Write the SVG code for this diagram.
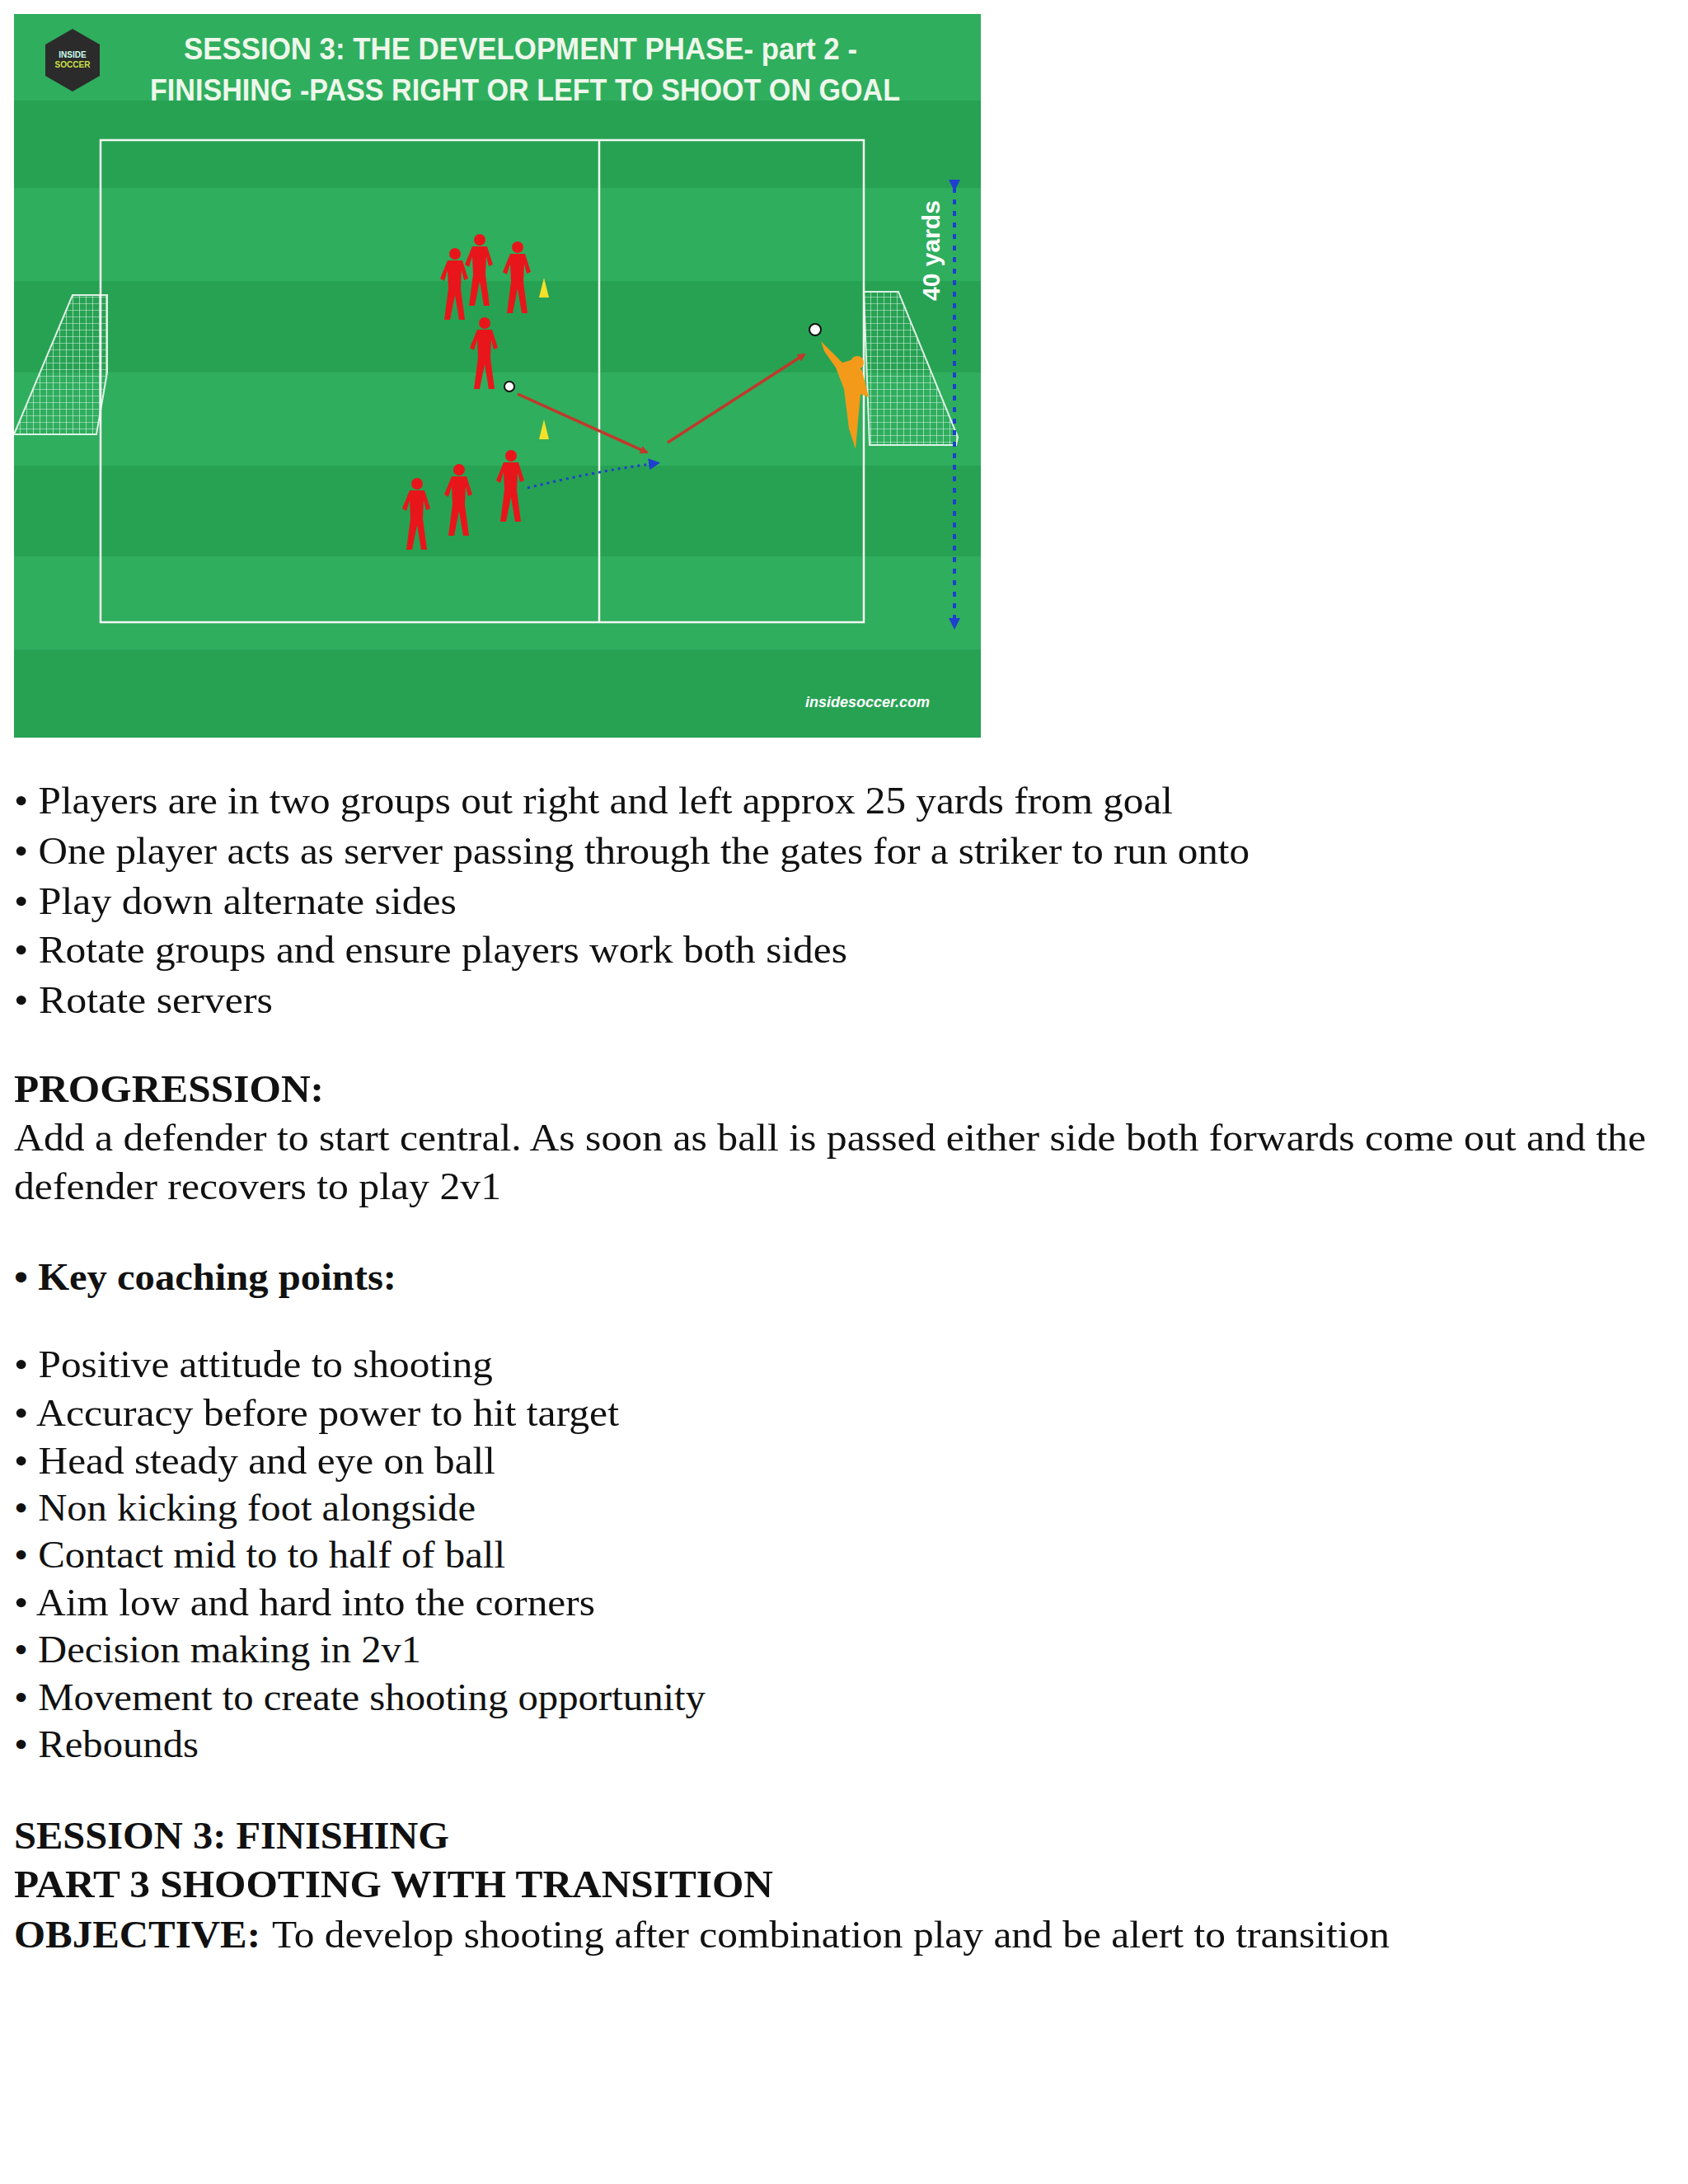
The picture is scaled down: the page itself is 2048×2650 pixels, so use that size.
<svg xmlns="http://www.w3.org/2000/svg" width="2048" height="2650" viewBox="0 0 2048 2650">
<defs>
<style>
.t{font-family:"Liberation Serif","Times New Roman",serif;font-size:47px;fill:#111}
.b{font-weight:bold}
.ti{font-family:"Liberation Sans",Arial,sans-serif;font-weight:bold;font-size:36px;fill:#eef7ea}
.line{fill:none;stroke:#f4f8f2;stroke-width:2.5}
.pl{fill:#e8161a}
</style>
<pattern id="net" width="8" height="8" patternUnits="userSpaceOnUse"><path d="M0 0H8M0 0V8" stroke="#ffffff" stroke-width="1.2" fill="none"/></pattern>
<marker id="ar" markerWidth="10" markerHeight="10" refX="8" refY="5" orient="auto" markerUnits="userSpaceOnUse"><path d="M0 0L10 5L0 10z" fill="#c0392b"/></marker>
<marker id="ab" markerWidth="14" markerHeight="14" refX="10" refY="7" orient="auto" markerUnits="userSpaceOnUse"><path d="M0 0L14 7L0 14z" fill="#1f3fd0"/></marker>
<g id="player"><circle cx="0" cy="-38" r="7"/><path d="M-9 -30 L9 -30 L16 -8 L11 -6 L8 -18 L7 4 L12 42 L5 42 L0 12 L-6 42 L-13 42 L-8 4 L-9 -18 L-13 -5 L-18 -8 Z"/></g>
</defs>
<rect x="0" y="0" width="2048" height="2650" fill="#fff"/>
<g id="pitch">
<rect x="17" y="17" width="1173" height="878" fill="#2fae5e"/>
<rect x="17" y="122" width="1173" height="106" fill="#27a253"/>
<rect x="17" y="341" width="1173" height="111" fill="#27a253"/>
<rect x="17" y="565" width="1173" height="110" fill="#27a253"/>
<rect x="17" y="788" width="1173" height="107" fill="#27a253"/>
<rect x="122" y="170" width="926" height="585" class="line"/>
<line x1="727" y1="170" x2="727" y2="755" class="line"/>
</g>
<g id="logo"><polygon points="88,35 121,54 121,92 88,111 55,92 55,54" fill="#2b2b2b"/><text x="88" y="70" text-anchor="middle" font-family="Liberation Sans,Arial,sans-serif" font-size="10" font-weight="bold" fill="#cfe">INSIDE</text><text x="88" y="82" text-anchor="middle" font-family="Liberation Sans,Arial,sans-serif" font-size="10" font-weight="bold" fill="#cde04a">SOCCER</text></g>
<g id="title"><text class="ti" x="223" y="72" textLength="817" lengthAdjust="spacingAndGlyphs">SESSION  3:  THE DEVELOPMENT PHASE- part 2 -</text><text class="ti" x="182" y="122" textLength="910" lengthAdjust="spacingAndGlyphs">FINISHING -PASS RIGHT OR LEFT TO SHOOT ON  GOAL</text></g>
<g id="goal-left"><polygon points="88,358 130,358 130,452 117,527 17,527" fill="url(#net)" stroke="#fff" stroke-width="2" opacity="0.85"/></g>
<g id="goal-right"><polygon points="1048,354 1090,354 1162,530 1160,540 1055,540" fill="url(#net)" stroke="#fff" stroke-width="2" opacity="0.85"/></g>
<g id="measure"><line x1="1158" y1="228" x2="1158" y2="760" stroke="#1f3fd0" stroke-width="4" stroke-dasharray="6 8" marker-start="url(#ab)" marker-end="url(#ab)"/><text x="1140" y="304" transform="rotate(-90 1140 304)" text-anchor="middle" font-family="Liberation Sans,Arial,sans-serif" font-weight="bold" font-size="30" fill="#fff">40 yards</text></g>
<g id="cones"><polygon points="660,337 654,361 666,361" fill="#f5e02a"/><polygon points="660,509 654,533 666,533" fill="#f5e02a"/></g>
<g id="players-top" class="pl"><use href="#player" transform="translate(552,346)"/><use href="#player" transform="translate(582,329)"/><use href="#player" transform="translate(628,338)"/></g>
<g id="server" class="pl"><use href="#player" transform="translate(588,430)"/></g>
<g id="players-bottom" class="pl"><use href="#player" transform="translate(506,625)"/><use href="#player" transform="translate(557,608)"/><use href="#player" transform="translate(620,591)"/></g>
<g id="keeper"><path d="M996 414 L1010 428 L1022 440 L1036 436 L1046 450 L1054 482 L1044 478 L1042 500 L1038 545 L1030 520 L1024 472 L1014 446 L1000 426 Z" fill="#f39a1a"/><circle cx="1040" cy="440" r="8" fill="#f39a1a"/></g>
<g id="balls"><circle cx="618" cy="469" r="6" fill="#fff" stroke="#111" stroke-width="2"/><circle cx="989" cy="400" r="7" fill="#fff" stroke="#111" stroke-width="2"/></g>
<g id="connectors">
<line x1="628" y1="478" x2="785" y2="549" stroke="#c0392b" stroke-width="3.5" marker-end="url(#ar)"/>
<line x1="810" y1="537" x2="976" y2="430" stroke="#c0392b" stroke-width="3.5" marker-end="url(#ar)"/>
<path d="M640 592 Q720 572 797 562" fill="none" stroke="#1f3fd0" stroke-width="3" stroke-dasharray="3 5" marker-end="url(#ab)"/>
</g>
<text x="1128" y="858" text-anchor="end" font-family="Liberation Sans,Arial,sans-serif" font-style="italic" font-weight="bold" font-size="18" fill="#fff">insidesoccer.com</text>
<g id="text">
<text class="t" x="17" y="987" textLength="1406" lengthAdjust="spacingAndGlyphs">• Players are in two groups out right and left approx 25 yards from goal</text>
<text class="t" x="17" y="1048" textLength="1499" lengthAdjust="spacingAndGlyphs">• One player acts as server passing through the gates for a striker to run onto</text>
<text class="t" x="17" y="1109" textLength="537" lengthAdjust="spacingAndGlyphs">• Play down alternate sides</text>
<text class="t" x="17" y="1168" textLength="1011" lengthAdjust="spacingAndGlyphs">• Rotate groups and ensure players work both sides</text>
<text class="t" x="17" y="1229" textLength="314" lengthAdjust="spacingAndGlyphs">• Rotate servers</text>
<text class="t b" x="17" y="1337" textLength="376" lengthAdjust="spacingAndGlyphs">PROGRESSION:</text>
<text class="t" x="17" y="1396" textLength="1980" lengthAdjust="spacingAndGlyphs">Add a defender to start central. As soon as ball is passed either side both forwards come out and the</text>
<text class="t" x="17" y="1455" textLength="591" lengthAdjust="spacingAndGlyphs">defender recovers to play 2v1</text>
<text class="t b" x="17" y="1565" textLength="464" lengthAdjust="spacingAndGlyphs">• Key coaching points:</text>
<text class="t" x="17" y="1671" textLength="581" lengthAdjust="spacingAndGlyphs">• Positive attitude to shooting</text>
<text class="t" x="17" y="1730" textLength="734" lengthAdjust="spacingAndGlyphs">• Accuracy before power to hit target</text>
<text class="t" x="17" y="1788" textLength="584" lengthAdjust="spacingAndGlyphs">• Head steady and eye on ball</text>
<text class="t" x="17" y="1845" textLength="560" lengthAdjust="spacingAndGlyphs">• Non kicking foot alongside</text>
<text class="t" x="17" y="1902" textLength="596" lengthAdjust="spacingAndGlyphs">• Contact mid to to half of ball</text>
<text class="t" x="17" y="1960" textLength="705" lengthAdjust="spacingAndGlyphs">• Aim low and hard into the corners</text>
<text class="t" x="17" y="2017" textLength="494" lengthAdjust="spacingAndGlyphs">• Decision making in 2v1</text>
<text class="t" x="17" y="2075" textLength="839" lengthAdjust="spacingAndGlyphs">• Movement to create shooting opportunity</text>
<text class="t" x="17" y="2132" textLength="224" lengthAdjust="spacingAndGlyphs">• Rebounds</text>
<text class="t b" x="17" y="2243" textLength="528" lengthAdjust="spacingAndGlyphs">SESSION 3: FINISHING</text>
<text class="t b" x="17" y="2302" textLength="921" lengthAdjust="spacingAndGlyphs">PART 3 SHOOTING WITH TRANSITION</text>
<text class="t b" x="17" y="2363" textLength="299" lengthAdjust="spacingAndGlyphs">OBJECTIVE:</text>
<text class="t" x="330" y="2363" textLength="1356" lengthAdjust="spacingAndGlyphs">To develop shooting after combination play and be alert to transition</text>
</g>
</svg>
